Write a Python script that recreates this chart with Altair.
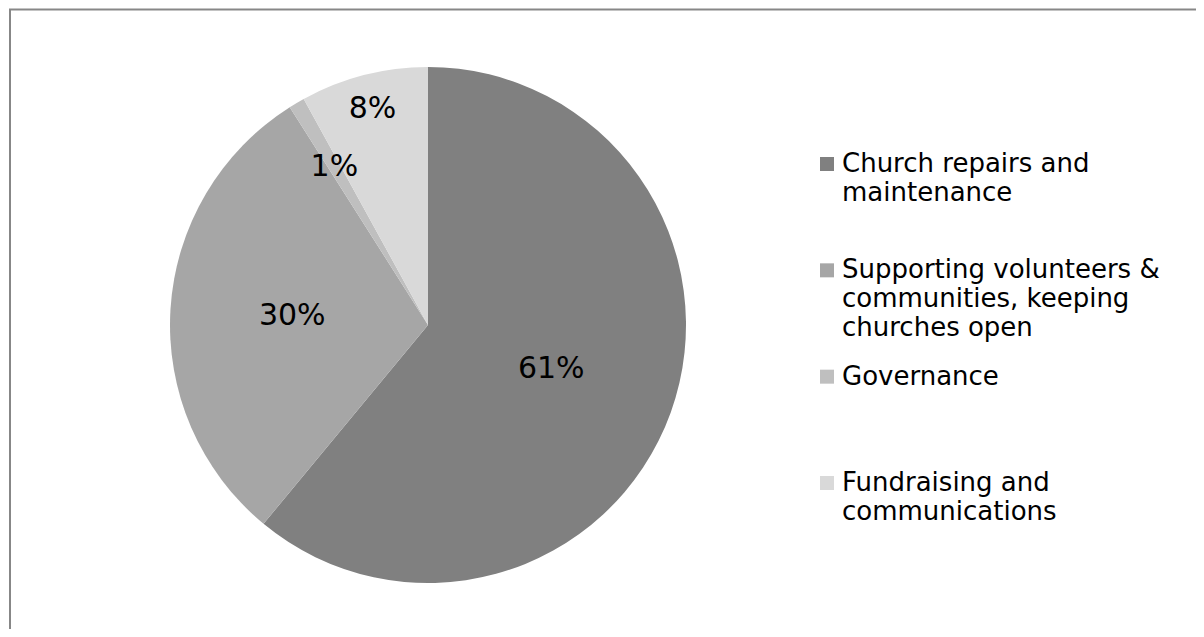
import altair as alt
import pandas as pd

categories = [
    "Church repairs and maintenance",
    "Supporting volunteers & communities, keeping churches open",
    "Governance",
    "Fundraising and communications",
]
legend_labels = [
    "Church repairs and\nmaintenance",
    "Supporting volunteers &\ncommunities, keeping\nchurches open",
    "Governance",
    "Fundraising and\ncommunications",
]
values = [61, 30, 1, 8]
pct_labels = ["61%", "30%", "1%", "8%"]
colors = ["#808080", "#a6a6a6", "#bfbfbf", "#d9d9d9"]

df = pd.DataFrame({
    "category": categories,
    "legend": legend_labels,
    "value": values,
    "pct": pct_labels,
    "idx": list(range(len(categories))),
})

FONT = "DejaVu Sans"
W, H = 1188, 621
CX, CY, R = 419, 317, 258

color = alt.Color("category:N", scale=alt.Scale(domain=categories, range=colors), legend=None)

base = alt.Chart(df)

pie = base.mark_arc(outerRadius=R).encode(
    theta=alt.Theta("value:Q", stack=True),
    color=color,
    order=alt.Order("idx:Q"),
    x=alt.value(CX),
    y=alt.value(CY),
)

# label distance from the centre for each slice (style)
labels = base.transform_window(
    cum="sum(value)", sort=[alt.SortField("idx")]
).transform_calculate(
    mid="datum.cum - datum.value / 2",
    lr="datum.idx == 0 ? 131 : datum.idx == 1 ? 136 : datum.idx == 2 ? 184 : 223",
).mark_text(font=FONT, fontSize=30, color="#000000").encode(
    theta=alt.Theta("mid:Q", stack=None),
    radius=alt.Radius("lr:Q", scale=None),
    text="pct:N",
    x=alt.value(CX),
    y=alt.value(CY),
)

ypos = alt.Y("idx:Q", scale=alt.Scale(domain=[0, 3], range=[156, 475]), axis=None)

markers = base.mark_square(size=196, opacity=1).encode(
    x=alt.value(818),
    y=ypos,
    color=color,
)

legend_text = base.mark_text(
    font=FONT, fontSize=26, align="left", baseline="top", lineBreak="\n",
    lineHeight=29, color="#000000", dy=-13
).encode(
    x=alt.value(833),
    y=ypos,
    text="legend:N",
)

one = alt.Data(values=[{}])
left_border = alt.Chart(one).mark_rule(color="#878787", strokeWidth=2).encode(
    x=alt.value(1), y=alt.value(1), y2=alt.value(H)
)
top_border = alt.Chart(one).mark_rule(color="#878787", strokeWidth=2).encode(
    x=alt.value(0), x2=alt.value(W), y=alt.value(1.5)
)

chart = alt.layer(pie, labels, markers, legend_text, left_border, top_border).properties(
    width=W, height=H, padding=0,
    autosize=alt.AutoSizeParams(type="fit", contains="padding"),
).configure_view(stroke=None)

chart.save("out.html", embed_options={"renderer": "svg", "actions": False})
